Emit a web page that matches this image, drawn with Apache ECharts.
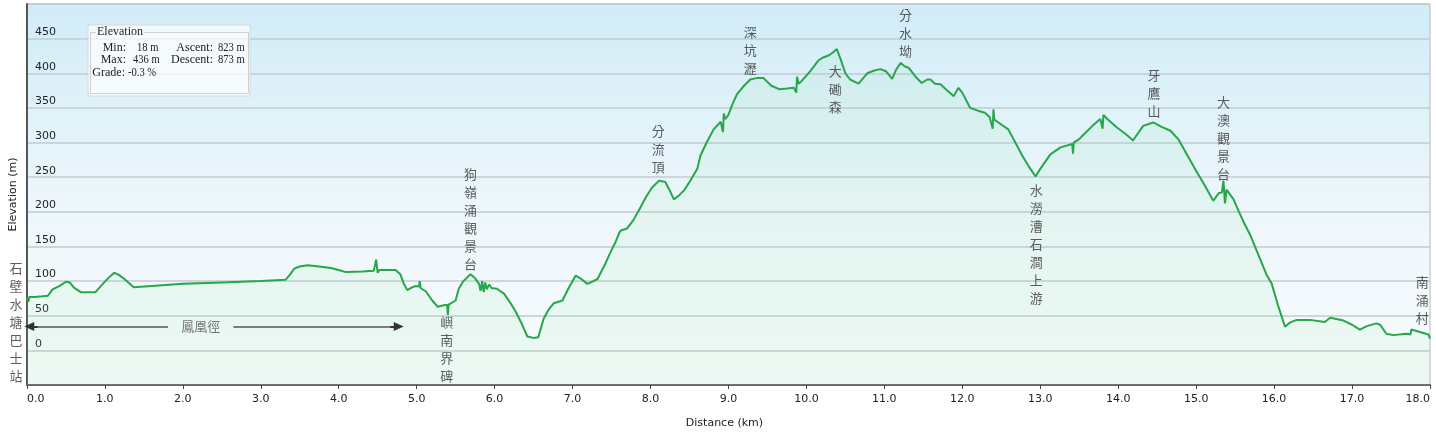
<!DOCTYPE html>
<html>
<head>
<meta charset="utf-8">
<script src="https://cdn.jsdelivr.net/npm/echarts@6/dist/echarts.min.js"></script>
<style>
html,body{margin:0;padding:0;background:#fff;}
#c{width:1436px;height:434px;}
</style>
</head>
<body>
<div id="c"></div>
<script>
// Distance (km) and elevation (m) of the profile
const distKm = [
  0.00,0.02,0.03,0.10,0.20,0.27,0.33,0.42,0.50,0.55,0.60,0.69,0.80,0.88,0.95,1.05,1.12,1.18,1.25,1.32,1.37,
  1.60,2.00,2.50,3.00,3.32,3.38,3.43,3.50,3.60,3.75,3.90,4.00,4.09,4.30,4.45,4.48,4.50,4.52,4.73,4.79,4.84,
  4.88,4.94,4.99,5.03,5.04,5.05,5.12,5.20,5.27,5.35,5.39,5.40,5.41,5.50,5.54,5.60,5.69,5.75,5.80,5.82,5.84,
  5.86,5.88,5.90,5.93,5.96,6.03,6.12,6.20,6.27,6.35,6.42,6.50,6.56,6.63,6.70,6.76,6.87,6.95,7.04,7.10,7.19,
  7.25,7.32,7.42,7.48,7.55,7.60,7.62,7.70,7.78,7.85,7.94,8.02,8.11,8.19,8.25,8.30,8.36,8.43,8.50,8.60,8.64,
  8.72,8.81,8.90,8.93,8.94,8.96,9.00,9.05,9.11,9.20,9.28,9.36,9.45,9.55,9.65,9.75,9.84,9.87,9.88,9.90,9.94,
  10.05,10.15,10.20,10.29,10.34,10.39,10.44,10.50,10.56,10.67,10.72,10.78,10.87,10.95,11.02,11.10,11.15,11.21,
  11.26,11.31,11.40,11.48,11.55,11.59,11.65,11.72,11.80,11.89,11.95,12.00,12.10,12.20,12.29,12.35,12.39,12.40,
  12.41,12.50,12.59,12.68,12.77,12.85,12.94,13.00,13.13,13.26,13.41,13.42,13.43,13.50,13.56,13.66,13.77,13.80,
  13.81,13.86,13.98,14.10,14.19,14.32,14.45,14.55,14.67,14.77,14.88,15.01,15.10,15.22,15.29,15.33,15.35,15.37,
  15.39,15.48,15.55,15.61,15.70,15.82,15.90,15.97,16.05,16.14,16.20,16.29,16.46,16.65,16.72,16.89,17.00,17.10,
  17.19,17.31,17.36,17.44,17.53,17.70,17.75,17.76,17.98,18.00
];
const elevM = [
  76,70,77,77,78,79,88,93,99,98,91,84,84,84,93,105,112,109,103,96,91,
  93,96,98,100,102,110,118,121,123,121,119,116,113,114,115,131,112,116,116,110,95,
  87,91,93,92,100,90,85,72,63,65,66,51,66,72,89,100,110,104,96,86,100,
  84,98,88,95,90,89,82,69,56,38,20,18,19,46,60,68,72,90,108,104,96,
  99,103,125,140,156,170,173,176,188,202,221,235,245,243,230,218,223,231,243,262,281,
  300,319,330,315,342,334,340,355,370,382,391,393,393,382,377,378,379,372,395,385,389,
  403,418,422,426,430,435,420,400,391,385,392,400,404,406,403,392,405,415,
  410,408,395,386,391,391,385,384,376,367,379,372,350,346,343,337,320,348,
  333,326,319,300,281,266,251,262,283,293,298,284,300,305,312,323,334,320,
  340,334,322,312,303,324,329,323,317,305,283,257,240,216,227,228,245,212,
  232,218,200,185,165,132,110,96,65,34,40,44,44,41,47,43,37,30,
  35,39,37,24,22,24,23,30,23,17
];
// Y axis tick labels shown
const yTicks = [0,50,100,150,200,250,300,350,400,450];
// Place names along the trail and where their labels sit (km, m)
const places = ['石壁水塘巴士站','狗嶺涌觀景台','嶼南界碑','分流頂','深坑瀝','大磡森','分水坳','水澇漕石澗上游','牙鷹山','大澳觀景台','南涌村'];
const placeKm = [-0.14, 5.69, 5.385, 8.10, 9.28, 10.37, 11.27, 12.95, 14.46, 15.35, 17.90];
const placeElev = [40.3, 189.8, 2.2, 290.4, 434.2, 377.4, 458, 153, 371.7, 306.3, 72.6];
// Trail section
const trailName = '鳳凰徑';
const trailStartKm = 0.03, trailEndKm = 4.77, trailGapStartKm = 1.81, trailGapEndKm = 2.65, trailElev = 34.5;
// Stats
const statLabels = ['Min:', 'Max:', 'Grade:'];
const statValues = ['18 m', '436 m', '-0.3 %'];
const statLabels2 = ['Ascent:', 'Descent:'];
const statValues2 = ['823 m', '873 m'];

const chart = echarts.init(document.getElementById('c'), null, {renderer: 'canvas'});
const lineData = distKm.map((d, i) => [d, elevM[i]]);
const placeData = places.map((p, i) => ({value: [placeKm[i], placeElev[i]], name: p}));

const serif = 'Liberation Serif';
const sans = 'DejaVu Sans';
const statFont = '12px "' + serif + '"';
const valX1 = [137, 133, 128], valX2 = [218, 218];
const statGraphics = [];
statLabels.forEach((t, i) => {
  statGraphics.push({type: 'text', x: i === 2 ? 125 : 126, y: 48 + i * 12.3, style: {text: t, font: statFont, fill: '#222', textAlign: 'right', textVerticalAlign: 'middle'}});
  statGraphics.push({type: 'text', x: valX1[i], y: 48 + i * 12.3, scaleX: 0.88, style: {text: statValues[i], font: statFont, fill: '#222', textAlign: 'left', textVerticalAlign: 'middle'}});
});
statLabels2.forEach((t, i) => {
  statGraphics.push({type: 'text', x: 213, y: 48 + i * 12.3, style: {text: t, font: statFont, fill: '#222', textAlign: 'right', textVerticalAlign: 'middle'}});
  statGraphics.push({type: 'text', x: valX2[i], y: 48 + i * 12.3, scaleX: 0.88, style: {text: statValues2[i], font: statFont, fill: '#222', textAlign: 'left', textVerticalAlign: 'middle'}});
});

const headLen = 0.11;
const option = {
  animation: false,
  grid: {
    left: 26, right: 6, top: 4, bottom: 46,
    show: true,
    borderColor: '#b8b8b8', borderWidth: 1,
    backgroundColor: {type: 'linear', x: 0, y: 0, x2: 0, y2: 1, colorStops: [
      {offset: 0, color: '#d1ecf8'}, {offset: 0.55, color: '#eef7fb'}, {offset: 1, color: '#f8fbfd'}
    ]}
  },
  xAxis: {
    type: 'value', min: 0, max: 18, interval: 1,
    name: 'Distance (km)', nameLocation: 'middle', nameGap: 33,
    nameTextStyle: {fontFamily: sans, fontSize: 11, color: '#222', padding: [0, 8, 0, 0]},
    axisLine: {show: true, onZero: false, lineStyle: {color: '#666', width: 2}},
    axisTick: {show: true, length: 4, lineStyle: {color: '#444'}},
    axisLabel: {fontFamily: sans, fontSize: 11, color: '#222', margin: 9, formatter: v => v.toFixed(1), alignMinLabel: 'left', alignMaxLabel: 'right'},
    splitLine: {show: false}
  },
  yAxis: {
    type: 'value', min: -50, max: 500, interval: 50,
    name: 'Elevation (m)', nameLocation: 'middle', nameGap: 4,
    nameTextStyle: {fontFamily: sans, fontSize: 11, color: '#222'},
    axisLine: {show: true, onZero: false, lineStyle: {color: '#555', width: 2}},
    axisTick: {show: false},
    axisLabel: {inside: true, margin: 8, fontFamily: sans, fontSize: 11, color: '#222', verticalAlign: 'bottom', padding: [0,0,1,0],
      formatter: v => yTicks.indexOf(v) >= 0 ? String(v) : ''},
    splitLine: {show: true, lineStyle: {color: '#c2cbd0', width: 1.5}}
  },
  graphic: [
    {type: 'rect', shape: {x: 88, y: 25, width: 162, height: 71}, style: {fill: 'rgba(255,255,255,0.72)', stroke: '#d8d8d8', lineWidth: 1}, z: 100},
    {type: 'rect', shape: {x: 90.5, y: 32.5, width: 158, height: 61}, style: {fill: 'none', stroke: '#d0d0d0', lineWidth: 1}, z: 101},
    {type: 'text', x: 96, y: 32, style: {text: 'Elevation', font: statFont, fill: '#222', textVerticalAlign: 'middle', backgroundColor: '#f6fbfd', padding: [0,1,0,1]}, z: 102},
    ...statGraphics.map(g => Object.assign(g, {z: 102}))
  ],
  series: [
    {
      type: 'line', data: lineData, showSymbol: false, symbol: 'none',
      lineStyle: {color: '#27a64a', width: 2},
      areaStyle: {origin: 'start', color: {type: 'linear', x: 0, y: 0, x2: 0, y2: 1, colorStops: [
        {offset: 0, color: 'rgba(120,215,150,0.14)'}, {offset: 1, color: 'rgba(150,235,170,0.16)'}
      ]}},
      z: 3,
      markLine: {
        silent: true, symbol: 'none',
        lineStyle: {color: '#7c7c7c', width: 2, type: 'solid'},
        label: {show: false},
        data: [
          [{coord: [trailStartKm + headLen, trailElev]}, {coord: [trailGapStartKm, trailElev]}],
          [{coord: [trailGapEndKm, trailElev]}, {coord: [trailEndKm - headLen, trailElev]}]
        ]
      }
    },
    {
      type: 'line', data: [], z: 4,
      markLine: {
        silent: true, symbolSize: [9, 10],
        lineStyle: {color: '#333', width: 2, type: 'solid'},
        label: {show: false},
        data: [
          [{coord: [trailStartKm, trailElev], symbol: 'triangle'}, {coord: [trailStartKm + headLen, trailElev], symbol: 'none'}],
          [{coord: [trailEndKm - headLen, trailElev], symbol: 'none'}, {coord: [trailEndKm, trailElev], symbol: 'triangle'}]
        ]
      }
    },
    {
      type: 'scatter', data: placeData, symbolSize: 0, clip: false, z: 5,
      label: {show: true, position: 'inside', formatter: p => p.name.split('').join('\n'),
        fontFamily: 'Noto Sans CJK TC', fontSize: 13, lineHeight: 18, color: '#333'}
    },
    {
      type: 'scatter', data: [{value: [(trailGapStartKm + trailGapEndKm) / 2, trailElev], name: trailName}], symbolSize: 0, z: 5,
      label: {show: true, position: 'inside', formatter: p => p.name,
        fontFamily: 'Noto Sans CJK TC', fontSize: 13, color: '#555'}
    }
  ]
};
chart.setOption(option);
</script>
</body>
</html>
